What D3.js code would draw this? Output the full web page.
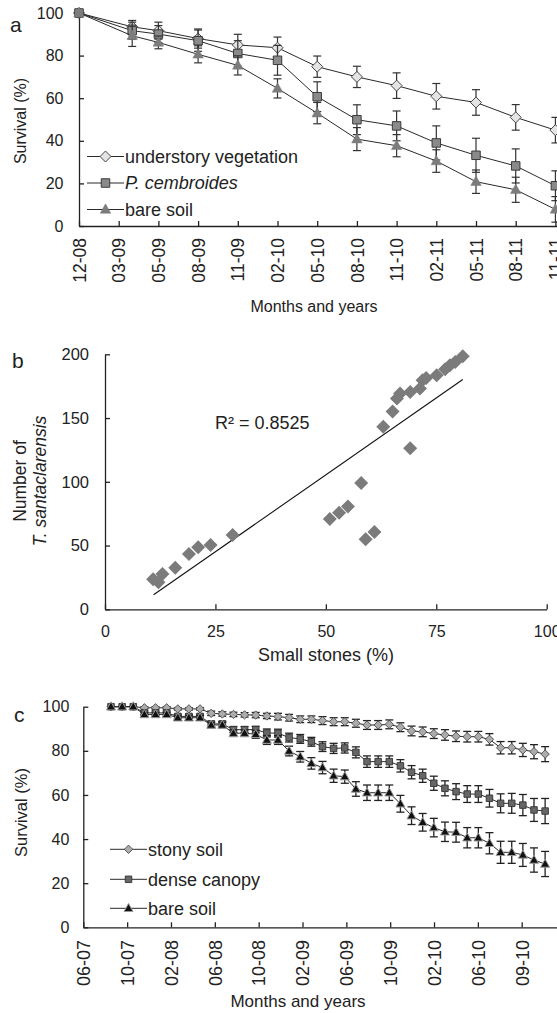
<!DOCTYPE html>
<html lang="en">
<head>
<meta charset="UTF-8">
<title>Survival charts</title>
<script src="https://cdn.jsdelivr.net/npm/d3@7"></script>
<style>
    body { margin: 0; background: #fff; }
    svg { display: block; font-family: "Liberation Sans", Arial, sans-serif; }
    .axis path, .axis line { stroke: #222; stroke-width: 1.3; }
    .axis text { fill: #222; }
    text { fill: #222; }
</style>
</head>
<body>
<script>

    // ---- panel a ----
    var aLabels = ["12-08", "03-09", "05-09", "08-09", "11-09", "02-10", "05-10", "08-10", "11-10", "02-11", "05-11", "08-11", "11-11"];
    // where each survey sits on the category axis (second survey falls between ticks)
    var aPos = [0, 1.34, 2, 3, 4, 5, 6, 7, 8, 9, 10, 11, 12];
    var aUnder = [100, 93.5, 91.7, 88, 85, 83.7, 74.8, 70, 65.9, 60.9, 58, 51, 45];
    var aPinus = [100, 91.7, 90.1, 87, 81, 77.8, 60.7, 49.9, 47, 39, 33.2, 28.2, 18.9];
    var aBare = [100, 89.3, 86.2, 80.6, 75.4, 64.6, 53, 40.8, 37.7, 30.5, 20.8, 17, 7.8];
    var aUnderErr = [0, 3, 4, 4.5, 5, 5, 5, 5, 6, 6, 6, 6, 6];
    var aPinusErr = [0, 4, 4, 5, 6, 7, 7, 7, 7, 8, 8, 8, 7];
    var aBareErr = [0, 5, 3, 4, 4.5, 4.5, 5, 5.4, 5.2, 5.3, 5.5, 5.9, 6];
    var aYTicks = [0, 20, 40, 60, 80, 100];

    // ---- panel b ----
    var bStones = [10.9, 12.1, 13, 15.9, 19, 21.1, 23.9, 28.9, 50.9, 53, 55, 58, 59, 61, 63, 65.1, 66.1, 66.8, 69.1, 69.1, 71.3, 71.9, 72.7, 75.1, 77, 78.1, 79.3, 81];
    var bCount = [23.5, 21.2, 27.7, 32.6, 43.3, 48.6, 50.4, 58.2, 70.8, 75.7, 80.7, 99, 54.9, 60.6, 143.1, 155.2, 165.4, 169.3, 170.5, 126.4, 173.2, 179.7, 181.5, 183.6, 188.3, 191.5, 194, 198.5];
    var bTrendX = [11, 81];
    var bTrendY = [11.4, 180.2];
    var bXTicks = [0, 25, 50, 75, 100];
    var bYTicks = [0, 50, 100, 150, 200];

    // ---- panel c ----
    var cLabels = ["06-07", "10-07", "02-08", "06-08", "10-08", "02-09", "06-09", "10-09", "02-10", "06-10", "09-10"];
    var cStony = [100, 100, 100, 99.5, 99.5, 99.5, 99, 99, 99, 97, 96.7, 96.5, 96.3, 96.2, 95.8, 95.5, 95, 94.3, 94.3, 93.7,
        93.2, 93.2, 92.5, 91.7, 91.7, 92, 90.7, 89, 88.6, 87.8, 87.2, 86.6, 86.4, 86.4, 85.2, 81.4, 81.4, 80.4, 79.6, 78.5];
    var cDense = [100, 100, 100, 97.2, 97.2, 97.2, 95.6, 95.6, 95.6, 92.2, 92.2, 89.6, 89.6, 89.6, 88.1, 88, 86, 85.4, 84.1, 81.9,
        81.1, 81.3, 79.3, 75.1, 75.1, 75.1, 73.2, 70.3, 68.7, 65.3, 63, 61.5, 60.4, 60.4, 58.5, 56.2, 56.2, 55.4, 53.2, 52.7];
    var cBare = [100, 100, 100, 96.5, 96.5, 96.5, 95, 95, 95, 91.7, 91.7, 88, 88, 87.5, 84.9, 84.9, 79.9, 77.3, 74.3, 72.4,
        68.7, 68.3, 62.7, 61, 61, 61, 56, 50.6, 47.6, 45.2, 43.3, 43.1, 40.6, 40.6, 38.1, 34, 34, 32.8, 30.5, 28.7];
    var cStonyErr = [0, 0, 0, 0.5, 0.5, 0.5, 0.5, 0.5, 0.5, 1, 1, 1, 1, 1.2, 1.2, 1.5, 1.5, 1.5, 1.5, 1.8,
        1.8, 1.8, 1.8, 2, 2, 2, 2, 2.2, 2.2, 2.2, 2.4, 2.4, 2.4, 2.4, 2.6, 2.8, 2.8, 3, 3.2, 3.4];
    var cDenseErr = [0, 0, 0, 0.8, 0.8, 0.8, 1, 1, 1, 1.2, 1.2, 1.4, 1.4, 1.5, 1.8, 1.8, 2, 2, 2, 2.2,
        2.3, 2.3, 2.5, 2.6, 2.6, 2.6, 2.8, 3, 3, 3.2, 3.4, 3.6, 3.8, 3.8, 4, 4.3, 4.5, 4.8, 5.2, 5.7];
    var cBareErr = [0, 0, 0, 0.8, 0.8, 0.8, 1, 1, 1, 1.2, 1.2, 1.5, 1.5, 1.8, 2, 2, 2.2, 2.4, 2.6, 2.8,
        3, 3, 3.3, 3.5, 3.5, 3.5, 3.8, 4, 4, 4.2, 4.4, 4.5, 4.6, 4.6, 4.8, 5, 5, 5.2, 5.5, 5.7];
    // monthly surveys: first one 0.632 tick steps after 06-07, each 0.254 tick steps apart
    var cStart = 0.632, cStep = 0.2539;
    var cYTicks = [0, 20, 40, 60, 80, 100];

    var svg = d3.select("body").append("svg")
            .attr("width", 557)
            .attr("height", 1013);

    // marker path helpers
    function diamond(r) {
        return "M0," + (-r) + "L" + r + ",0L0," + r + "L" + (-r) + ",0Z";
    }
    function square(s) {
        var h = s / 2;
        return "M" + (-h) + "," + (-h) + "H" + h + "V" + h + "H" + (-h) + "Z";
    }
    function triangle(w) {
        var h = w * 0.9;
        return "M0," + (-h * 0.6) + "L" + (w / 2) + "," + (h * 0.4) + "L" + (-w / 2) + "," + (h * 0.4) + "Z";
    }

    function drawSeries(g, xs, vals, errs, x, y, style) {
        g.append("path")
                .attr("d", d3.line().x(function(d, i) { return x(xs[i]); }).y(function(d) { return y(d); })(vals))
                .attr("fill", "none")
                .attr("stroke", "#2a2a2a")
                .attr("stroke-width", 1);

        var eb = g.append("g")
                .attr("stroke", style.err)
                .attr("stroke-width", style.errW);
        vals.forEach(function(v, i) {
            if (!errs[i]) return;
            var px = x(xs[i]);
            var y0 = y(v - errs[i]), y1 = y(v + errs[i]);
            eb.append("line").attr("x1", px).attr("x2", px).attr("y1", y0).attr("y2", y1);
            eb.append("line").attr("x1", px - style.cap).attr("x2", px + style.cap).attr("y1", y0).attr("y2", y0);
            eb.append("line").attr("x1", px - style.cap).attr("x2", px + style.cap).attr("y1", y1).attr("y2", y1);
        });

        g.selectAll(null)
                .data(vals)
                .enter()
                .append("path")
                .attr("transform", function(d, i) { return "translate(" + x(xs[i]) + "," + y(d) + ")"; })
                .attr("d", style.shape)
                .attr("fill", style.fill)
                .attr("stroke", style.stroke)
                .attr("stroke-width", style.strokeW);
    }

    function legendRow(g, x0, x1, xm, xt, yy, style, label, italic, size) {
        g.append("line").attr("x1", x0).attr("x2", x1).attr("y1", yy).attr("y2", yy)
                .attr("stroke", "#2a2a2a").attr("stroke-width", 1);
        g.append("path").attr("transform", "translate(" + xm + "," + yy + ")")
                .attr("d", style.shape).attr("fill", style.fill)
                .attr("stroke", style.stroke).attr("stroke-width", style.strokeW);
        g.append("text").attr("x", xt).attr("y", yy).attr("dy", "0.35em")
                .attr("font-size", size)
                .attr("font-style", italic ? "italic" : "normal")
                .text(label);
    }

    // ================= panel a =================
    var ax = d3.scaleLinear().domain([0, 12.04]).range([79, 557]);
    var ay = d3.scaleLinear().domain([0, 100]).range([226, 13]);
    var ga = svg.append("g");

    ga.append("g").attr("class", "axis")
            .attr("transform", "translate(79,0)")
            .call(d3.axisLeft(ay).tickValues(aYTicks).tickSize(-5).tickSizeOuter(0).tickPadding(15.5))
            .attr("font-size", 16).attr("font-family", null);

    var axX = ga.append("g").attr("class", "axis")
            .attr("transform", "translate(0,226)")
            .call(d3.axisBottom(ax).tickValues(aLabels.map(function(d, i) { return i; }))
                    .tickFormat(function(i) { return aLabels[i]; })
                    .tickSize(-5).tickSizeOuter(0))
            .attr("font-size", 17.5).attr("font-family", null);
    axX.selectAll("text")
            .attr("transform", "rotate(-90)")
            .attr("text-anchor", "end")
            .attr("x", -12).attr("y", 0).attr("dy", "0.35em");

    var aStyles = {
        under: {shape: diamond(5.5), fill: "#e4e4e4", stroke: "#444", strokeW: 1, err: "#333", errW: 1.2, cap: 4},
        pinus: {shape: square(8.5), fill: "#8a8a8a", stroke: "#3a3a3a", strokeW: 1, err: "#333", errW: 1.2, cap: 4},
        bare: {shape: triangle(10.5), fill: "#7c7c7c", stroke: "#7c7c7c", strokeW: 0.5, err: "#333", errW: 1.2, cap: 4}
    };
    drawSeries(ga, aPos, aUnder, aUnderErr, ax, ay, aStyles.under);
    drawSeries(ga, aPos, aPinus, aPinusErr, ax, ay, aStyles.pinus);
    drawSeries(ga, aPos, aBare, aBareErr, ax, ay, aStyles.bare);

    legendRow(ga, 87, 124, 105.5, 125, 156.5, aStyles.under, "understory vegetation", false, 18);
    legendRow(ga, 87, 124, 105.5, 125, 183, aStyles.pinus, "P. cembroides", true, 18);
    legendRow(ga, 87, 124, 105.5, 125, 209.5, aStyles.bare, "bare soil", false, 18);

    ga.append("text").attr("x", 10).attr("y", 32).attr("font-size", 21).text("a");
    ga.append("text").attr("transform", "translate(20,121) rotate(-90)")
            .attr("text-anchor", "middle").attr("dy", "0.35em")
            .attr("font-size", 16).text("Survival (%)");
    ga.append("text").attr("x", 314).attr("y", 312)
            .attr("text-anchor", "middle").attr("font-size", 16).text("Months and years");

    // ================= panel b =================
    var bx = d3.scaleLinear().domain([0, 100]).range([105, 546.7]);
    var by = d3.scaleLinear().domain([0, 200]).range([609.3, 354.3]);
    var gb = svg.append("g");

    gb.append("g").attr("class", "axis")
            .attr("transform", "translate(105,0)")
            .call(d3.axisLeft(by).tickValues(bYTicks).tickSize(-5).tickSizeOuter(0).tickPadding(16))
            .attr("font-size", 16.5).attr("font-family", null);
    gb.append("g").attr("class", "axis")
            .attr("transform", "translate(0,609.3)")
            .call(d3.axisBottom(bx).tickValues(bXTicks).tickSize(-5).tickSizeOuter(0).tickPadding(16))
            .attr("font-size", 16).attr("font-family", null);

    gb.append("line")
            .attr("x1", bx(bTrendX[0])).attr("y1", by(bTrendY[0]))
            .attr("x2", bx(bTrendX[1])).attr("y2", by(bTrendY[1]))
            .attr("stroke", "#111").attr("stroke-width", 1.1);

    gb.selectAll("path.pt")
            .data(bStones)
            .enter()
            .append("path")
            .attr("class", "pt")
            .attr("transform", function(d, i) { return "translate(" + bx(d) + "," + by(bCount[i]) + ")"; })
            .attr("d", diamond(7))
            .attr("fill", "#7b7b7b");

    gb.append("text").attr("x", 215).attr("y", 429).attr("font-size", 18).text("R² = 0.8525");
    gb.append("text").attr("x", 12).attr("y", 368).attr("font-size", 21).text("b");
    gb.append("text").attr("transform", "translate(19.5,481) rotate(-90)")
            .attr("text-anchor", "middle").attr("dy", "0.35em")
            .attr("font-size", 17.5).text("Number of");
    gb.append("text").attr("transform", "translate(40,481) rotate(-90)")
            .attr("text-anchor", "middle").attr("dy", "0.35em")
            .attr("font-size", 17.5).attr("font-style", "italic").text("T. santaclarensis");
    gb.append("text").attr("x", 326).attr("y", 661)
            .attr("text-anchor", "middle").attr("font-size", 18).text("Small stones (%)");

    // ================= panel c =================
    var cx = d3.scaleLinear().domain([0, 10.805]).range([83.3, 557]);
    var cy = d3.scaleLinear().domain([0, 100]).range([927.3, 706.7]);
    var gc = svg.append("g");

    gc.append("g").attr("class", "axis")
            .attr("transform", "translate(83.3,0)")
            .call(d3.axisLeft(cy).tickValues(cYTicks).tickSize(-5).tickSizeOuter(0).tickPadding(14))
            .attr("font-size", 16).attr("font-family", null);
    var cxAxis = gc.append("g").attr("class", "axis")
            .attr("transform", "translate(0,927.3)")
            .call(d3.axisBottom(cx).tickValues(cLabels.map(function(d, i) { return i; }))
                    .tickFormat(function(i) { return cLabels[i]; })
                    .tickSize(-5).tickSizeOuter(0))
            .attr("font-size", 18).attr("font-family", null);
    cxAxis.selectAll("text")
            .attr("transform", "rotate(-90)")
            .attr("text-anchor", "end")
            .attr("x", -12.7).attr("y", 0).attr("dy", "0.35em");

    var cPos = cStony.map(function(d, i) { return cStart + i * cStep; });
    var cStyles = {
        stony: {shape: diamond(4.2), fill: "#ababab", stroke: "#4a4a4a", strokeW: 0.9, err: "#222", errW: 1.3, cap: 4},
        dense: {shape: square(6.5), fill: "#666", stroke: "#333", strokeW: 0.9, err: "#222", errW: 1.3, cap: 4},
        bare: {shape: triangle(9), fill: "#111", stroke: "#9a9a9a", strokeW: 1, err: "#222", errW: 1.3, cap: 4}
    };
    drawSeries(gc, cPos, cStony, cStonyErr, cx, cy, cStyles.stony);
    drawSeries(gc, cPos, cDense, cDenseErr, cx, cy, cStyles.dense);
    drawSeries(gc, cPos, cBare, cBareErr, cx, cy, cStyles.bare);

    legendRow(gc, 110, 147, 128.5, 148, 849.3, cStyles.stony, "stony soil", false, 18);
    legendRow(gc, 110, 147, 128.5, 148, 879.3, cStyles.dense, "dense canopy", false, 18);
    legendRow(gc, 110, 147, 128.5, 148, 908.3, cStyles.bare, "bare soil", false, 18);

    gc.append("text").attr("x", 14).attr("y", 722).attr("font-size", 21).text("c");
    gc.append("text").attr("transform", "translate(21.5,812.5) rotate(-90)")
            .attr("text-anchor", "middle").attr("dy", "0.35em")
            .attr("font-size", 16.5).text("Survival (%)");
    gc.append("text").attr("x", 298).attr("y", 1007)
            .attr("text-anchor", "middle").attr("font-size", 17).text("Months and years");

</script>
</body>
</html>
